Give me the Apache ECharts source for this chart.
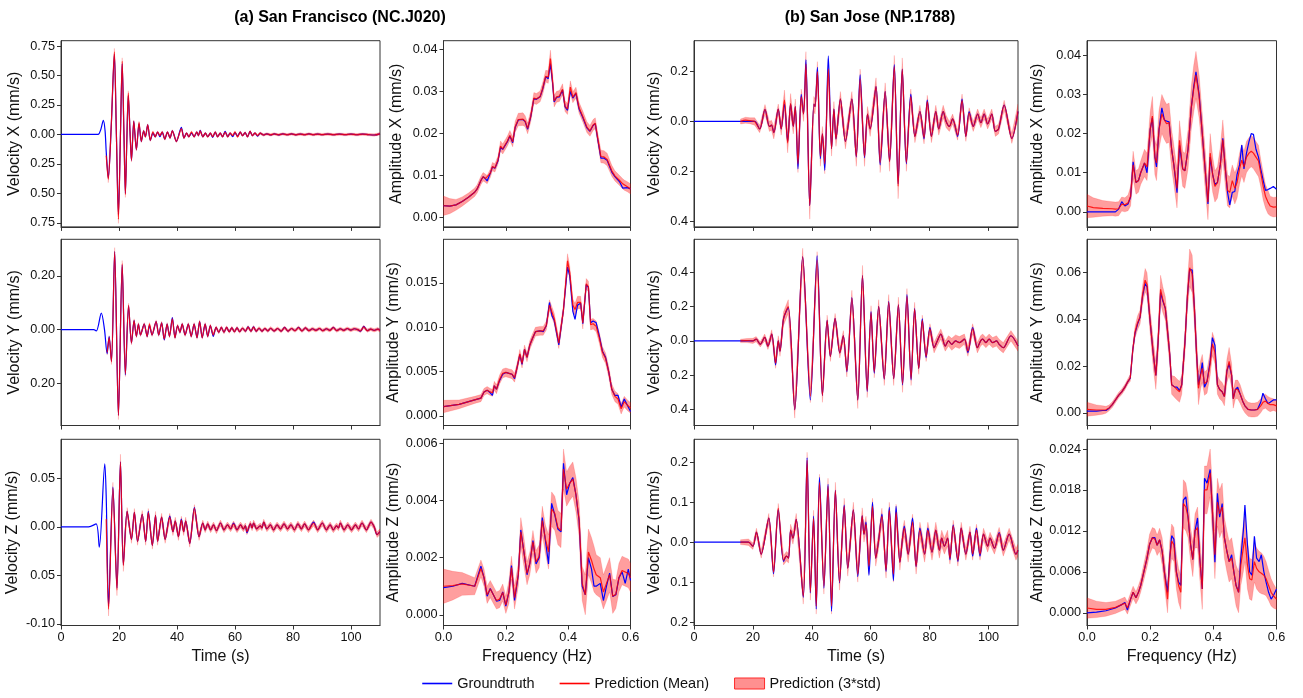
<!DOCTYPE html>
<html><head><meta charset="utf-8">
<script src="https://cdn.jsdelivr.net/npm/echarts@6/dist/echarts.min.js"></script>
<style>html,body{margin:0;padding:0;background:#fff}#c{width:1303px;height:698px}</style>
</head><body><div id="c"></div>
<script>
// ---------- tick labels ----------
const timeTicks = [0,20,40,60,80,100];
const timeTickLabels = ['0','20','40','60','80','100'];
const freqTicks = [0,0.2,0.4,0.6];
const freqTickLabels = ['0.0','0.2','0.4','0.6'];

const ySFVX = [-0.75,-0.5,-0.25,0,0.25,0.5,0.75], ySFVXL = ['0.75','0.50','0.25','0.00','0.25','0.50','0.75'];
const ySFVY = [-0.2,0,0.2], ySFVYL = ['0.20','0.00','0.20'];
const ySFVZ = [-0.1,-0.05,0,0.05], ySFVZL = ['-0.10','0.05','0.00','0.05'];
const ySFAX = [0,0.01,0.02,0.03,0.04], ySFAXL = ['0.00','0.01','0.02','0.03','0.04'];
const ySFAY = [0,0.005,0.01,0.015], ySFAYL = ['0.000','0.005','0.010','0.015'];
const ySFAZ = [0,0.002,0.004,0.006], ySFAZL = ['0.000','0.002','0.004','0.006'];
const ySJVX = [-0.4,-0.2,0,0.2], ySJVXL = ['0.4','0.2','0.0','0.2'];
const ySJVY = [-0.4,-0.2,0,0.2,0.4], ySJVYL = ['0.4','0.2','0.0','0.2','0.4'];
const ySJVZ = [-0.2,-0.1,0,0.1,0.2], ySJVZL = ['0.2','0.1','0.0','0.1','0.2'];
const ySJAX = [0,0.01,0.02,0.03,0.04], ySJAXL = ['0.00','0.01','0.02','0.03','0.04'];
const ySJAY = [0,0.02,0.04,0.06], ySJAYL = ['0.00','0.02','0.04','0.06'];
const ySJAZ = [0,0.006,0.012,0.018,0.024], ySJAZL = ['0.000','0.006','0.012','0.018','0.024'];

// ---------- (a) San Francisco, velocity X ----------
const tSFX = [0,5,10,12.8,13.7,14.6,15.2,
 15.6,16.3,17.3,18.4,19.1,19.8,20.5,21.1,21.7,22.2,
 22.7,23.2,23.8,24.3,25.1,26.0,26.9,27.7,28.5,29.1,
 29.9,30.8,31.7,32.5,33.3,34.1,34.9,35.8,36.7,37.6,
 38.4,39.8,41.5,42.4,43.3,44.1,45.0,45.9,46.8,47.4,48.0,
 48.9,49.8,50.6,51.5,52.3,53.2,54.0,54.9,55.7,56.6,
 57.5,58.3,59.2,60.0,60.9,61.8,62.6,63.5,64.3,65.2,
 66.0,66.9,67.8,68.7,69.8,71.0,72.3,73.5,75.0,76.5,
 78.0,79.5,81.0,82.5,84.0,85.5,87.0,88.5,90.0,92.0,
 94,96,98,100,102,104,106,108,110];
const gtSFX = [0,0,0,0,0.04,0.12,0.03,
 -0.15,-0.37,0.05,0.68,0.0,-0.68,0.0,0.60,0.0,-0.50,
 -0.05,0.33,0.02,-0.22,0.11,-0.13,0.09,-0.06,0.03,-0.02,
 0.08,-0.05,0.01,-0.02,0.02,-0.02,0.02,-0.04,0.02,-0.03,
 0.03,-0.06,0.06,-0.03,0.01,-0.02,0.01,-0.02,0.02,-0.01,0.035,
 -0.02,0.01,-0.02,0.01,-0.025,0.02,-0.02,0.01,-0.02,0.025,
 -0.02,0.01,-0.02,0.015,-0.015,0.02,-0.01,0.015,-0.02,0.025,
 -0.01,0.01,-0.015,0.01,-0.005,0.005,-0.005,0.004,-0.004,0.005,
 -0.003,0.004,-0.004,0.003,-0.003,0.005,-0.003,0.003,-0.002,0.003,
 -0.003,0.002,-0.002,0.002,-0.003,0.002,-0.002,-0.005,0.005];
const prSFX = [null,null,null,null,null,null,null,
 -0.18,-0.38,0.06,0.70,0.0,-0.72,0.0,0.62,0.02,-0.51,
 -0.05,0.35,0.02,-0.22,0.11,-0.13,0.10,-0.06,0.03,-0.02,
 0.08,-0.05,0.02,-0.02,0.02,-0.01,0.02,-0.04,0.02,-0.03,
 0.03,-0.06,0.05,-0.03,0.01,-0.02,0.02,-0.02,0.02,-0.01,0.03,
 -0.02,0.01,-0.02,0.01,-0.02,0.02,-0.02,0.01,-0.02,0.02,
 -0.02,0.01,-0.01,0.02,-0.02,0.02,-0.01,0.015,-0.02,0.025,
 -0.01,0.01,-0.01,0.01,-0.005,0.004,-0.004,0.004,-0.004,0.004,
 -0.003,0.004,-0.004,0.003,-0.003,0.004,-0.003,0.003,-0.002,0.003,
 -0.003,0.002,-0.002,0.002,-0.003,0.002,-0.002,-0.005,0.005];
const sdSFX = [null,null,null,null,null,null,null,
 0.02,0.03,0.015,0.03,0.015,0.035,0.015,0.03,0.015,0.025,
 0.015,0.02,0.012,0.015,0.012,0.012,0.012,0.01,0.01,0.01,
 0.01,0.01,0.01,0.01,0.01,0.01,0.01,0.01,0.01,0.01,
 0.01,0.01,0.01,0.01,0.01,0.01,0.01,0.01,0.01,0.01,0.01,
 0.01,0.01,0.01,0.01,0.01,0.01,0.01,0.01,0.01,0.01,
 0.01,0.01,0.01,0.01,0.01,0.01,0.01,0.01,0.01,0.01,
 0.01,0.01,0.01,0.01,0.01,0.01,0.01,0.01,0.01,0.01,
 0.01,0.01,0.01,0.01,0.01,0.01,0.01,0.01,0.01,0.01,
 0.01,0.01,0.01,0.01,0.01,0.01,0.01,0.01,0.01];

// ---------- (a) San Francisco, velocity Y ----------
const tSFY = [0,5,10,11.3,12.2,13.9,15.0,
 15.9,16.6,17.4,18.5,19.8,21.1,22.2,23.3,24.3,25.2,
 26.0,26.7,27.4,28.7,29.7,30.5,31.4,32.8,33.7,34.7,
 35.6,36.6,37.4,38.4,39.3,40.2,41.0,41.8,42.8,43.9,
 44.9,45.9,46.9,47.8,48.7,49.7,50.6,51.5,52.5,53.5,
 54.4,55.3,56.2,57.1,58.0,58.9,59.8,60.7,61.6,62.6,
 63.6,64.5,65.5,66.4,67.3,68.3,69.3,70.3,71.3,72.3,
 73.5,74.7,75.9,77.1,78.3,79.5,80.7,81.9,83.1,84.3,
 85.5,86.7,87.9,89.1,90.3,91.5,92.7,93.9,95.1,96.3,
 97.5,98.7,99.9,101.1,102.3,103.3,104.4,105.6,106.8,108.0,109.2,110];
const gtSFY = [0,0,0,0,-0.005,0.061,0.0,
 -0.09,-0.026,-0.117,0.29,-0.318,0.24,-0.169,0.088,-0.05,0.033,
 -0.025,0.02,-0.02,0.02,-0.025,0.015,-0.02,0.03,-0.02,0.025,
 -0.038,0.02,-0.025,0.045,-0.03,0.015,-0.01,0.02,-0.02,0.02,
 -0.025,0.02,-0.03,0.03,-0.03,0.02,-0.025,0.015,-0.025,0.008,
 -0.01,0.008,-0.01,0.008,-0.008,0.006,-0.008,0.006,-0.008,0.005,
 -0.006,0.01,-0.006,0.01,-0.006,0.005,-0.006,0.004,-0.005,0.005,
 -0.005,0.004,-0.006,0.008,-0.006,0.004,-0.004,0.008,-0.005,0.006,
 -0.004,0.003,-0.003,0.004,-0.004,0.003,-0.003,0.008,-0.004,0.003,
 -0.003,0.004,-0.002,0.003,0.0,-0.006,0.012,-0.004,0.002,-0.003,0.002,-0.003];
const prSFY = [null,null,null,null,null,null,null,
 -0.085,-0.03,-0.12,0.29,-0.32,0.245,-0.165,0.09,-0.05,0.033,
 -0.025,0.02,-0.02,0.02,-0.025,0.02,-0.02,0.03,-0.02,0.025,
 -0.035,0.02,-0.025,0.04,-0.03,0.015,-0.01,0.02,-0.02,0.02,
 -0.025,0.02,-0.03,0.03,-0.03,0.02,-0.025,0.015,-0.02,0.008,
 -0.01,0.008,-0.01,0.008,-0.008,0.006,-0.008,0.006,-0.008,0.005,
 -0.006,0.009,-0.006,0.009,-0.006,0.005,-0.006,0.004,-0.005,0.005,
 -0.005,0.004,-0.006,0.007,-0.006,0.004,-0.004,0.007,-0.005,0.006,
 -0.004,0.003,-0.003,0.004,-0.004,0.003,-0.003,0.007,-0.004,0.003,
 -0.003,0.004,-0.002,0.003,0.0,-0.005,0.01,-0.004,0.002,-0.003,0.002,-0.003];
const sdSFY = [null,null,null,null,null,null,null,
 0.01,0.008,0.01,0.015,0.015,0.012,0.01,0.008,0.007,0.007,
 0.006,0.006,0.006,0.006,0.006,0.006,0.006,0.006,0.006,0.006,
 0.006,0.006,0.006,0.006,0.006,0.006,0.006,0.006,0.006,0.006,
 0.006,0.006,0.006,0.006,0.006,0.006,0.006,0.006,0.006,0.006,
 0.006,0.006,0.006,0.006,0.006,0.006,0.006,0.006,0.006,0.006,
 0.006,0.006,0.006,0.006,0.006,0.006,0.006,0.006,0.006,0.006,
 0.006,0.006,0.006,0.006,0.006,0.006,0.006,0.006,0.006,0.006,
 0.006,0.006,0.006,0.006,0.006,0.006,0.006,0.006,0.006,0.006,
 0.006,0.006,0.006,0.006,0.006,0.006,0.006,0.006,0.006,0.006,0.006,0.006];

// ---------- (a) San Francisco, velocity Z ----------
const tSFZ = [0,5,9.5,12.1,13.2,15.1,
 15.6,16.4,17.9,19.3,20.5,21.5,22.8,24.3,25.3,26.4,
 28.0,29.2,30.1,31.5,32.6,33.3,34.7,35.9,37.5,38.6,
 39.4,40.5,41.5,42.3,43.0,44.4,46.0,47.6,48.9,49.7,
 50.6,51.6,52.6,53.6,55.0,56.2,57.4,58.5,59.5,60.7,
 61.9,62.9,63.6,64.1,65.3,65.9,66.4,67.5,68.7,69.3,
 69.9,71.0,72.2,73.3,74.5,75.7,76.9,78.1,79.3,80.5,
 81.7,82.9,84.0,85.3,87.1,88.5,90.1,91.5,92.8,93.9,
 95.0,95.7,96.3,97.6,98.9,100.2,101.5,102.6,103.8,105.3,
 106.9,108.0,109.0,110];
const gtSFZ = [0,0,0,0.003,-0.021,0.065,
 0.03,-0.082,0.041,-0.063,0.067,-0.039,0.016,-0.013,0.015,-0.015,
 0.013,-0.015,0.016,-0.019,0.012,-0.015,0.010,-0.013,0.011,-0.005,
 0.006,-0.010,0.008,-0.005,0.006,-0.017,0.020,-0.010,0.004,-0.003,
 0.003,-0.003,0.002,-0.004,0.004,-0.003,0.002,-0.002,0.004,-0.003,
 0.002,-0.002,0.001,-0.006,0.003,-0.001,0.004,-0.002,0.001,-0.001,
 0.005,-0.002,0.002,-0.003,0.002,-0.002,0.003,-0.002,0.002,-0.003,
 0.003,-0.002,0.003,-0.003,0.005,-0.003,0.004,-0.003,0.002,-0.003,
 0.001,-0.001,0.004,-0.003,0.002,-0.003,0.002,-0.002,0.004,-0.003,
 0.005,0.0,-0.008,-0.005];
const prSFZ = [null,null,null,null,null,null,
 0.008,-0.085,0.04,-0.065,0.067,-0.04,0.016,-0.013,0.015,-0.015,
 0.013,-0.015,0.015,-0.019,0.012,-0.015,0.010,-0.013,0.010,-0.005,
 0.006,-0.010,0.007,-0.005,0.006,-0.017,0.019,-0.010,0.004,-0.003,
 0.003,-0.003,0.002,-0.004,0.004,-0.003,0.002,-0.002,0.003,-0.003,
 0.002,-0.002,0.001,-0.005,0.003,-0.001,0.004,-0.002,0.001,-0.001,
 0.005,-0.002,0.002,-0.003,0.002,-0.002,0.003,-0.002,0.002,-0.003,
 0.003,-0.002,0.003,-0.003,0.004,-0.003,0.004,-0.003,0.002,-0.003,
 0.001,-0.001,0.004,-0.003,0.002,-0.003,0.002,-0.002,0.004,-0.003,
 0.005,0.0,-0.008,-0.005];
const sdSFZ = [null,null,null,null,null,null,
 0.004,0.007,0.006,0.006,0.008,0.006,0.004,0.004,0.004,0.004,
 0.004,0.004,0.004,0.004,0.004,0.004,0.004,0.004,0.004,0.004,
 0.004,0.004,0.004,0.004,0.004,0.004,0.004,0.004,0.003,0.003,
 0.003,0.003,0.003,0.003,0.003,0.003,0.003,0.003,0.003,0.003,
 0.003,0.003,0.003,0.003,0.003,0.003,0.003,0.003,0.003,0.003,
 0.003,0.003,0.003,0.003,0.003,0.003,0.003,0.003,0.003,0.003,
 0.003,0.003,0.003,0.003,0.003,0.003,0.003,0.003,0.003,0.003,
 0.003,0.003,0.003,0.003,0.003,0.003,0.003,0.003,0.003,0.003,
 0.003,0.003,0.003,0.003];

// ---------- (b) San Jose, velocity X ----------
const tSJX = [0,5,10,
 15.8,17.5,19.0,20.6,22.3,24.1,25.6,26.3,27.1,28.6,
 29.6,30.7,31.8,32.8,33.7,34.4,35.3,36.4,37.2,38.0,
 39.3,40.7,41.1,41.9,42.9,43.6,44.4,45.6,46.7,47.5,
 48.2,49.7,51.4,53.6,55.1,56.4,57.9,58.9,59.8,61.8,
 63.2,64.9,66.4,68.0,69.3,70.7,72.1,73.6,75.0,76.7,
 78.1,79.2,80.6,82.1,83.1,84.6,85.6,86.7,87.8,89.5,
 91.0,92.3,93.4,94.8,96.3,97.4,98.5,99.7,101.1,102.3,
 103.4,105.3,107.9,110];
const gtSJX = [0,0,0,
 0,0,0,0,-0.03,0.048,-0.02,-0.015,-0.045,0.05,
 -0.03,0.07,-0.08,0.07,-0.02,0.06,-0.19,0.109,0.03,0.247,
 -0.337,0.07,0.06,0.217,-0.149,-0.05,-0.196,0.263,-0.109,0.05,
 -0.07,0.09,-0.08,0.09,-0.142,0.187,-0.145,0.03,-0.03,0.14,
 -0.174,0.12,-0.16,0.228,-0.25,0.21,-0.17,0.11,-0.06,0.04,
 -0.07,0.086,-0.06,0.04,-0.03,0.04,0,-0.02,0.01,-0.06,
 0.09,-0.06,0.04,-0.02,0.03,-0.005,0.03,-0.01,0.03,-0.04,
 -0.03,0.066,-0.068,0.04];
const prSJX = [null,null,null,
 0,0.005,0.003,0,-0.03,0.048,-0.02,-0.015,-0.045,0.05,
 -0.03,0.086,-0.086,0.072,-0.02,0.06,-0.17,0.10,0.03,0.23,
 -0.337,0.07,0.06,0.20,-0.14,-0.05,-0.17,0.21,-0.109,0.05,
 -0.07,0.09,-0.08,0.09,-0.14,0.17,-0.14,0.03,-0.03,0.14,
 -0.165,0.12,-0.16,0.22,-0.26,0.21,-0.165,0.10,-0.06,0.04,
 -0.065,0.08,-0.06,0.04,-0.03,0.04,0,-0.02,0.01,-0.055,
 0.085,-0.06,0.035,-0.02,0.03,-0.005,0.03,-0.01,0.03,-0.04,
 -0.03,0.065,-0.068,0.04];
const sdSJX = [null,null,null,
 0.01,0.012,0.012,0.015,0.015,0.02,0.02,0.02,0.025,0.02,
 0.025,0.04,0.04,0.04,0.03,0.03,0.035,0.03,0.03,0.05,
 0.055,0.03,0.03,0.04,0.04,0.03,0.04,0.04,0.03,0.03,
 0.03,0.03,0.03,0.03,0.04,0.04,0.04,0.03,0.03,0.035,
 0.04,0.035,0.04,0.045,0.05,0.045,0.035,0.03,0.025,0.025,
 0.025,0.025,0.025,0.025,0.025,0.025,0.025,0.02,0.02,0.02,
 0.025,0.02,0.02,0.02,0.02,0.02,0.02,0.02,0.02,0.02,
 0.02,0.02,0.02,0.03];

// ---------- (b) San Jose, velocity Y ----------
const tSJY = [0,5,10,
 15.8,18.0,20.0,21.1,22.5,24.0,25.1,26.4,27.7,28.6,
 29.2,30.4,32.0,34.2,36.9,39.5,41.8,43.6,45.2,46.3,
 47.9,49.5,50.7,51.9,53.6,55.6,57.2,58.8,60.1,61.2,
 62.7,64.6,66.1,67.8,69.4,70.8,72.3,73.7,74.9,76.3,
 77.5,78.8,80.1,81.5,82.6,83.8,85.3,86.4,87.5,88.8,
 90.1,91.8,93.0,94.6,96.2,97.3,98.0,99.1,100.2,101.4,
 102.7,103.6,105.0,107.6,110];
const gtSJY = [0,0,0,
 0,0,0,0.01,-0.02,0.02,-0.03,0.04,-0.14,0,
 -0.06,0.13,0.194,-0.40,0.49,-0.344,0.495,-0.318,0.12,-0.09,
 0.13,-0.07,0.03,-0.18,0.252,-0.344,0.38,-0.295,0.17,-0.188,
 0.2,-0.223,0.229,-0.22,0.21,-0.256,0.27,-0.227,0.188,-0.16,
 0.128,-0.097,0.078,-0.04,0,0.04,-0.03,0,-0.02,0,
 -0.01,0.01,-0.068,0.078,-0.04,0,0.01,-0.01,0.01,-0.01,
 0,-0.02,-0.04,0.03,-0.03];
const prSJY = [null,null,null,
 0,0.002,0,0.01,-0.02,0.02,-0.03,0.04,-0.13,0,
 -0.06,0.13,0.2,-0.40,0.49,-0.32,0.47,-0.318,0.12,-0.09,
 0.13,-0.07,0.03,-0.175,0.25,-0.344,0.38,-0.29,0.165,-0.18,
 0.2,-0.22,0.225,-0.22,0.21,-0.25,0.26,-0.22,0.185,-0.16,
 0.12,-0.09,0.07,-0.04,0,0.04,-0.03,0,-0.02,0,
 -0.01,0.01,-0.06,0.07,-0.04,0,0.01,-0.01,0.01,-0.01,
 0,-0.02,-0.04,0.03,-0.03];
const sdSJY = [null,null,null,
 0.01,0.012,0.015,0.015,0.015,0.02,0.02,0.025,0.03,0.03,
 0.03,0.04,0.04,0.05,0.05,0.04,0.05,0.04,0.03,0.03,
 0.03,0.03,0.03,0.035,0.045,0.05,0.06,0.04,0.04,0.035,
 0.04,0.04,0.045,0.04,0.045,0.05,0.045,0.04,0.04,0.035,
 0.03,0.03,0.03,0.03,0.03,0.03,0.03,0.03,0.035,0.035,
 0.035,0.03,0.03,0.03,0.03,0.03,0.03,0.03,0.03,0.03,
 0.03,0.03,0.03,0.03,0.03];

// ---------- (b) San Jose, velocity Z ----------
const tSJZ = [0,5,10,
 15.8,18.5,20.0,21.2,22.8,25.4,27.0,28.6,30.4,31.4,
 32.1,32.8,33.6,34.7,37.1,38.4,39.5,40.6,41.5,42.6,
 44.1,45.5,46.7,48.0,49.4,51.0,52.2,54.1,55.6,57.1,
 57.7,58.4,59.4,60.6,61.7,62.6,63.8,65.2,66.3,67.7,
 68.6,69.9,70.8,71.4,72.7,74.2,75.4,76.7,78.3,79.4,
 80.8,82.1,83.3,84.1,85.0,86.1,86.9,88.0,89.6,90.7,
 92.3,93.7,94.6,95.9,97.1,98.3,99.7,100.5,102.0,103.6,
 105.0,107.0,109.3,110];
const gtSJZ = [0,0,0,
 0,0,-0.01,0.025,-0.03,0.06,-0.079,0.081,-0.048,-0.035,
 -0.04,0.03,0.01,0.057,-0.138,0.211,-0.127,0.065,-0.167,0.162,
 -0.115,0.145,-0.173,0.13,-0.102,0.093,-0.065,0.081,-0.086,0.066,
 0.02,0.05,-0.083,0.1,-0.04,0,0.07,-0.073,0.087,-0.096,
 0.09,-0.05,0.01,0.04,-0.03,0.06,-0.061,0.035,-0.03,0.035,
 -0.025,0.03,-0.02,0.01,-0.01,0.01,-0.044,0.043,-0.048,0.035,
 -0.03,0.025,-0.035,0.035,-0.035,0.02,-0.01,0.01,-0.015,0.024,
 -0.02,0.02,-0.03,-0.02];
const prSJZ = [null,null,null,
 0,0,-0.01,0.025,-0.03,0.06,-0.075,0.085,-0.045,-0.035,
 -0.04,0.03,0.01,0.057,-0.135,0.205,-0.125,0.06,-0.16,0.15,
 -0.11,0.14,-0.16,0.13,-0.1,0.09,-0.065,0.08,-0.08,0.066,
 0.02,0.045,-0.06,0.09,-0.04,0,0.065,-0.07,0.08,-0.08,
 0.075,-0.05,0.01,0.035,-0.03,0.05,-0.06,0.03,-0.03,0.03,
 -0.025,0.03,-0.02,0.01,-0.01,0.01,-0.04,0.04,-0.045,0.035,
 -0.03,0.025,-0.03,0.03,-0.03,0.02,-0.01,0.01,-0.015,0.022,
 -0.02,0.02,-0.03,-0.02];
const sdSJZ = [null,null,null,
 0.006,0.008,0.008,0.01,0.01,0.012,0.012,0.012,0.012,0.012,
 0.012,0.015,0.015,0.015,0.02,0.02,0.02,0.02,0.02,0.02,
 0.02,0.02,0.02,0.02,0.02,0.02,0.02,0.02,0.02,0.02,
 0.02,0.02,0.02,0.02,0.02,0.02,0.02,0.02,0.02,0.02,
 0.02,0.02,0.02,0.02,0.02,0.02,0.02,0.02,0.02,0.02,
 0.02,0.02,0.02,0.02,0.02,0.02,0.015,0.015,0.015,0.015,
 0.015,0.015,0.015,0.015,0.015,0.015,0.015,0.015,0.015,0.015,
 0.015,0.015,0.015,0.015];

// ---------- (a) San Francisco, amplitude X ----------
const fSFX = [0,0.02,0.04,0.06,0.08,0.10,0.108,0.12,0.127,0.135,
 0.14,0.15,0.157,0.165,0.175,0.183,0.19,0.205,0.213,0.222,
 0.23,0.24,0.255,0.262,0.27,0.28,0.29,0.298,0.31,0.318,
 0.328,0.336,0.343,0.35,0.355,0.363,0.372,0.382,0.39,0.398,
 0.407,0.415,0.425,0.435,0.447,0.46,0.47,0.48,0.487,0.495,
 0.505,0.515,0.525,0.54,0.55,0.565,0.575,0.58,0.59,0.6];
const agSFX = [0.0028,0.0027,0.0030,0.0038,0.0048,0.0060,0.0068,0.0088,0.0097,0.0092,
 0.0087,0.0105,0.0120,0.0117,0.0135,0.0167,0.0162,0.0180,0.0194,0.0178,
 0.0214,0.0232,0.0233,0.0228,0.0210,0.0240,0.0283,0.0281,0.0287,0.0305,
 0.0335,0.0330,0.0366,0.0320,0.0275,0.0286,0.0287,0.0303,0.0263,0.0255,
 0.0300,0.0284,0.0295,0.0258,0.0238,0.0213,0.0205,0.0219,0.0223,0.0185,
 0.0141,0.0141,0.0136,0.0108,0.0097,0.0085,0.0070,0.0067,0.0071,0.0068];
const apSFX = [0.0028,0.0027,0.0030,0.0038,0.0048,0.0060,0.0068,0.0088,0.0097,0.0093,
 0.0090,0.0105,0.0121,0.0118,0.0137,0.0170,0.0163,0.0182,0.0195,0.0180,
 0.0216,0.0233,0.0234,0.0229,0.0212,0.0241,0.0284,0.0282,0.0288,0.0306,
 0.0336,0.0334,0.0378,0.0325,0.0277,0.0287,0.0289,0.0305,0.0265,0.0258,
 0.0310,0.0286,0.0297,0.0261,0.0240,0.0215,0.0206,0.0220,0.0224,0.0188,
 0.0145,0.0144,0.0138,0.0111,0.0099,0.0088,0.0080,0.0077,0.0073,0.0068];
const asSFX = [0.0023,0.0018,0.0013,0.0011,0.001,0.001,0.001,0.001,0.001,0.001,
 0.001,0.001,0.001,0.001,0.001,0.0012,0.0012,0.0012,0.0012,0.0012,
 0.0013,0.0015,0.0015,0.0013,0.0013,0.0013,0.0013,0.0013,0.0013,0.0014,
 0.0014,0.0015,0.0020,0.0018,0.0014,0.0013,0.0013,0.0013,0.0013,0.0013,
 0.0015,0.0013,0.0013,0.0013,0.0013,0.0013,0.0013,0.0013,0.0013,0.0013,
 0.0015,0.0015,0.0015,0.0013,0.0012,0.0012,0.0012,0.0012,0.0012,0.0012];

// ---------- (a) San Francisco, amplitude Y ----------
const fSFY = [0,0.05,0.10,0.12,0.13,0.14,0.15,0.157,0.163,0.17,
 0.18,0.19,0.20,0.21,0.22,0.228,0.237,0.245,0.252,0.26,
 0.268,0.277,0.285,0.295,0.31,0.32,0.33,0.34,0.348,0.355,
 0.37,0.385,0.398,0.405,0.415,0.422,0.43,0.44,0.447,0.458,
 0.465,0.472,0.48,0.49,0.50,0.51,0.52,0.53,0.54,0.55,
 0.56,0.57,0.58,0.59,0.6];
const agSFY = [0.00105,0.0013,0.0018,0.0020,0.0027,0.0029,0.0026,0.0023,0.0034,0.0030,
 0.0040,0.0047,0.0049,0.0048,0.0047,0.0042,0.0056,0.0069,0.0058,0.0075,
 0.0066,0.0080,0.0087,0.0095,0.0096,0.0095,0.0102,0.0128,0.0113,0.0108,
 0.0080,0.0120,0.0168,0.0158,0.0118,0.0109,0.0125,0.0127,0.0104,0.0148,
 0.0145,0.0105,0.0107,0.0105,0.0090,0.0073,0.0066,0.0050,0.0030,0.0023,
 0.0023,0.0010,0.0019,0.0012,0.0005];
const apSFY = [0.00105,0.0013,0.0018,0.0020,0.0027,0.0029,0.0027,0.0026,0.0034,0.0030,
 0.0041,0.0048,0.0049,0.0048,0.0047,0.0043,0.0056,0.0070,0.0059,0.0075,
 0.0066,0.0080,0.0087,0.0095,0.0096,0.0096,0.0102,0.0125,0.0117,0.0110,
 0.0082,0.0120,0.0175,0.0162,0.0125,0.0120,0.0128,0.0128,0.0105,0.0149,
 0.0146,0.0103,0.0104,0.0101,0.0088,0.0072,0.0065,0.0050,0.0030,0.0022,
 0.0019,0.0008,0.0016,0.0012,0.0009];
const asSFY = [0.0007,0.0005,0.0004,0.0004,0.0004,0.0004,0.0004,0.0004,0.0005,0.0005,
 0.0005,0.0005,0.0005,0.0005,0.0005,0.0005,0.0005,0.0005,0.0005,0.0005,
 0.0005,0.0005,0.0005,0.0005,0.0005,0.0005,0.0005,0.0006,0.0006,0.0006,
 0.0006,0.0006,0.0008,0.0007,0.0007,0.0007,0.0007,0.0007,0.0007,0.0006,
 0.0006,0.0006,0.0006,0.0006,0.0006,0.0006,0.0006,0.0006,0.0006,0.0006,
 0.0006,0.0006,0.0006,0.0006,0.0006];

// ---------- (a) San Francisco, amplitude Z ----------
const fSFZ = [0,0.03,0.06,0.10,0.12,0.13,0.14,0.15,0.16,0.17,
 0.18,0.19,0.20,0.21,0.218,0.228,0.24,0.248,0.258,0.268,
 0.277,0.287,0.297,0.307,0.317,0.327,0.337,0.347,0.357,0.367,
 0.377,0.385,0.395,0.405,0.415,0.425,0.435,0.445,0.455,0.465,
 0.475,0.483,0.49,0.503,0.513,0.523,0.533,0.543,0.553,0.563,
 0.573,0.583,0.593,0.6];
const agSFZ = [0.00095,0.00100,0.00110,0.00100,0.00170,0.00130,0.00065,0.00092,0.00070,0.00048,
 0.00050,0.00080,0.00030,0.00080,0.00172,0.00050,0.00140,0.00297,0.00220,0.00140,
 0.00180,0.00260,0.00178,0.00200,0.00340,0.00260,0.00178,0.00390,0.00350,0.00300,
 0.00290,0.00530,0.00420,0.00460,0.00480,0.00420,0.00330,0.00100,0.00070,0.00200,
 0.00160,0.00100,0.00100,0.00110,0.00050,0.00100,0.00146,0.00064,0.00070,0.00130,
 0.00150,0.00110,0.00160,0.00120];
const apSFZ = [0.00100,0.00102,0.00108,0.00100,0.00162,0.00130,0.00070,0.00090,0.00070,0.00050,
 0.00055,0.00078,0.00035,0.00080,0.00165,0.00060,0.00140,0.00290,0.00220,0.00145,
 0.00180,0.00255,0.00185,0.00205,0.00330,0.00265,0.00220,0.00370,0.00355,0.00305,
 0.00295,0.00510,0.00440,0.00460,0.00475,0.00420,0.00335,0.00110,0.00070,0.00220,
 0.00190,0.00160,0.00140,0.00130,0.00080,0.00110,0.00140,0.00065,0.00072,0.00130,
 0.00155,0.00150,0.00145,0.00130];
const asSFZ = [0.0006,0.0005,0.0004,0.0003,0.0003,0.0003,0.0003,0.0003,0.0003,0.0003,
 0.0003,0.0003,0.0003,0.0004,0.0004,0.0004,0.0004,0.0005,0.0005,0.0004,
 0.0004,0.0004,0.0004,0.0004,0.0005,0.0005,0.0006,0.0006,0.0006,0.0006,
 0.0006,0.0007,0.0006,0.0006,0.0006,0.0006,0.0006,0.0006,0.0007,0.0008,
 0.0008,0.0008,0.0007,0.0007,0.0006,0.0006,0.0006,0.0006,0.0005,0.0005,
 0.0005,0.0005,0.0005,0.0005];

// ---------- (b) San Jose, amplitude X ----------
const fSJX = [0,0.02,0.05,0.08,0.09,0.10,0.11,0.12,0.13,0.138,
 0.146,0.155,0.163,0.17,0.182,0.19,0.2,0.207,0.215,0.22,
 0.228,0.237,0.245,0.252,0.26,0.268,0.275,0.285,0.293,0.303,
 0.31,0.32,0.33,0.338,0.345,0.355,0.365,0.375,0.383,0.39,
 0.398,0.405,0.413,0.422,0.43,0.438,0.445,0.452,0.46,0.468,
 0.475,0.483,0.49,0.497,0.505,0.513,0.52,0.527,0.535,0.543,
 0.55,0.558,0.565,0.573,0.58,0.59,0.6];
const agSJX = [0,0,0,0,0,0.0007,0.0026,0.0015,0.0020,0.0038,
 0.0128,0.0075,0.0080,0.0100,0.0125,0.0100,0.0210,0.0240,0.0140,0.0115,
 0.0210,0.0266,0.0235,0.0232,0.0230,0.0160,0.0120,0.0049,0.0170,0.0110,
 0.0105,0.0160,0.0265,0.0320,0.0358,0.0300,0.0200,0.0100,0.0020,0.0140,
 0.0095,0.0070,0.0075,0.0120,0.0188,0.0110,0.0050,0.0018,0.0050,0.0052,
 0.0095,0.0120,0.0171,0.0110,0.0150,0.0180,0.0200,0.0198,0.0160,0.0140,
 0.0110,0.0080,0.0055,0.0057,0.0060,0.0065,0.0058];
const apSJX = [0.0015,0.0011,0.0009,0.0008,0.0007,0.0008,0.0020,0.0018,0.0023,0.0040,
 0.0120,0.0075,0.0080,0.0100,0.0125,0.0115,0.0210,0.0245,0.0140,0.0125,
 0.0210,0.0250,0.0235,0.0225,0.0228,0.0160,0.0120,0.0060,0.0183,0.0110,
 0.0105,0.0160,0.0265,0.0315,0.0350,0.0295,0.0200,0.0100,0.0025,0.0150,
 0.0095,0.0065,0.0075,0.0120,0.0185,0.0110,0.0055,0.0050,0.0080,0.0060,
 0.0075,0.0110,0.0132,0.0115,0.0140,0.0150,0.0155,0.0150,0.0140,0.0130,
 0.0100,0.0065,0.0040,0.0025,0.0015,0.0012,0.0013];
const asSJX = [0.0030,0.0025,0.0020,0.0018,0.0018,0.0018,0.0018,0.0018,0.0020,0.0025,
 0.0035,0.0030,0.0030,0.0030,0.0035,0.0035,0.0045,0.0050,0.0045,0.0045,
 0.0050,0.0050,0.0050,0.0050,0.0050,0.0050,0.0050,0.0050,0.0050,0.0045,
 0.0045,0.0050,0.0055,0.0060,0.0060,0.0055,0.0050,0.0050,0.0045,0.0050,
 0.0045,0.0040,0.0040,0.0045,0.0050,0.0045,0.0040,0.0040,0.0040,0.0040,
 0.0040,0.0040,0.0040,0.0040,0.0040,0.0040,0.0040,0.0040,0.0040,0.0040,
 0.0035,0.0035,0.0030,0.0030,0.0025,0.0025,0.0025];

// ---------- (b) San Jose, amplitude Y ----------
const fSJY = [0,0.03,0.05,0.06,0.07,0.08,0.09,0.10,0.11,0.12,
 0.13,0.137,0.145,0.152,0.16,0.168,0.176,0.184,0.19,0.2,
 0.21,0.218,0.225,0.233,0.24,0.248,0.255,0.262,0.268,0.278,
 0.285,0.293,0.3,0.31,0.318,0.325,0.333,0.34,0.347,0.353,
 0.36,0.365,0.372,0.38,0.39,0.397,0.405,0.413,0.42,0.428,
 0.435,0.443,0.45,0.458,0.463,0.47,0.477,0.485,0.493,0.5,
 0.51,0.52,0.53,0.54,0.55,0.557,0.565,0.573,0.58,0.59,
 0.6];
const agSJY = [0.0007,0.0007,0.0010,0.0010,0.0020,0.0035,0.0055,0.0075,0.0090,0.0110,
 0.0135,0.0148,0.0270,0.0340,0.0380,0.0409,0.0500,0.0553,0.0540,0.0390,
 0.0250,0.0160,0.0300,0.0515,0.0480,0.0447,0.0350,0.0250,0.0120,0.0110,
 0.0110,0.0095,0.0120,0.0300,0.0500,0.0615,0.0611,0.0450,0.0250,0.0120,
 0.0170,0.0215,0.0110,0.0134,0.0220,0.0322,0.0290,0.0120,0.0100,0.0090,
 0.0070,0.0180,0.0210,0.0160,0.0060,0.0100,0.0110,0.0080,0.0050,0.0030,
 0.0015,0.0012,0.0012,0.0015,0.0045,0.0084,0.0060,0.0040,0.0045,0.0055,
 0.0055];
const apSJY = [0.0015,0.0012,0.0012,0.0013,0.0021,0.0035,0.0055,0.0075,0.0090,0.0110,
 0.0135,0.0150,0.0270,0.0345,0.0385,0.0410,0.0505,0.0568,0.0550,0.0390,
 0.0250,0.0160,0.0300,0.0529,0.0485,0.0447,0.0350,0.0250,0.0120,0.0110,
 0.0100,0.0090,0.0120,0.0300,0.0500,0.0621,0.0595,0.0450,0.0250,0.0105,
 0.0165,0.0190,0.0125,0.0134,0.0210,0.0295,0.0260,0.0120,0.0100,0.0090,
 0.0070,0.0180,0.0220,0.0160,0.0060,0.0100,0.0100,0.0080,0.0050,0.0030,
 0.0015,0.0012,0.0012,0.0015,0.0030,0.0045,0.0050,0.0040,0.0035,0.0035,
 0.0030];
const asSJY = [0.0030,0.0022,0.0018,0.0015,0.0012,0.0012,0.0012,0.0012,0.0012,0.0012,
 0.0012,0.0015,0.0020,0.0025,0.0030,0.0030,0.0040,0.0050,0.0050,0.0050,
 0.0060,0.0060,0.0060,0.0060,0.0055,0.0050,0.0050,0.0045,0.0040,0.0045,
 0.0045,0.0045,0.0040,0.0050,0.0060,0.0080,0.0080,0.0070,0.0070,0.0070,
 0.0060,0.0060,0.0050,0.0050,0.0050,0.0050,0.0050,0.0040,0.0040,0.0040,
 0.0040,0.0050,0.0060,0.0050,0.0040,0.0040,0.0040,0.0040,0.0035,0.0030,
 0.0030,0.0030,0.0030,0.0030,0.0030,0.0030,0.0030,0.0030,0.0030,0.0025,
 0.0025];

// ---------- (b) San Jose, amplitude Z ----------
const fSJZ = [0,0.03,0.06,0.09,0.11,0.12,0.128,0.138,0.146,0.155,
 0.163,0.17,0.18,0.19,0.198,0.207,0.215,0.222,0.23,0.238,
 0.245,0.255,0.262,0.268,0.275,0.283,0.29,0.297,0.305,0.313,
 0.32,0.328,0.335,0.342,0.35,0.357,0.365,0.372,0.38,0.39,
 0.397,0.405,0.413,0.42,0.428,0.435,0.443,0.45,0.458,0.465,
 0.472,0.48,0.487,0.495,0.5,0.508,0.515,0.522,0.53,0.537,
 0.545,0.552,0.56,0.567,0.575,0.583,0.59,0.6];
const agSJZ = [0.0000,0.0001,0.0003,0.0007,0.0012,0.0015,0.0004,0.0020,0.0030,0.0022,
 0.0030,0.0040,0.0060,0.0080,0.0100,0.0110,0.0110,0.0099,0.0107,0.0090,
 0.0060,0.0030,0.0080,0.0113,0.0108,0.0060,0.0045,0.0040,0.0165,0.0170,
 0.0140,0.0100,0.0078,0.0120,0.0139,0.0080,0.0035,0.0197,0.0190,0.0210,
 0.0150,0.0074,0.0175,0.0140,0.0160,0.0110,0.0090,0.0075,0.0085,0.0060,
 0.0040,0.0030,0.0080,0.0120,0.0158,0.0100,0.0060,0.0055,0.0112,0.0080,
 0.0075,0.0085,0.0060,0.0045,0.0030,0.0020,0.0025,0.0035];
const apSJZ = [0.0007,0.0005,0.0005,0.0008,0.0012,0.0014,0.0007,0.0020,0.0030,0.0022,
 0.0030,0.0040,0.0060,0.0080,0.0100,0.0110,0.0108,0.0099,0.0107,0.0090,
 0.0060,0.0020,0.0080,0.0105,0.0100,0.0060,0.0040,0.0030,0.0160,0.0155,
 0.0140,0.0100,0.0078,0.0120,0.0125,0.0080,0.0035,0.0180,0.0180,0.0205,
 0.0150,0.0085,0.0162,0.0145,0.0155,0.0110,0.0090,0.0075,0.0080,0.0060,
 0.0040,0.0030,0.0070,0.0095,0.0110,0.0070,0.0050,0.0048,0.0075,0.0065,
 0.0060,0.0058,0.0055,0.0050,0.0040,0.0030,0.0025,0.0020];
const asSJZ = [0.0015,0.0012,0.0010,0.0009,0.0009,0.0009,0.0009,0.0009,0.0009,0.0009,
 0.0010,0.0010,0.0012,0.0013,0.0015,0.0015,0.0015,0.0015,0.0017,0.0020,
 0.0020,0.0020,0.0025,0.0025,0.0025,0.0025,0.0025,0.0025,0.0035,0.0035,
 0.0030,0.0025,0.0025,0.0025,0.0030,0.0030,0.0030,0.0035,0.0035,0.0035,
 0.0035,0.0035,0.0035,0.0035,0.0035,0.0030,0.0030,0.0030,0.0030,0.0030,
 0.0030,0.0030,0.0030,0.0035,0.0035,0.0035,0.0030,0.0030,0.0030,0.0030,
 0.0030,0.0030,0.0028,0.0025,0.0022,0.0020,0.0018,0.0015];

// ---------- layout ----------
const FONT = "'Liberation Sans', Arial, Helvetica, sans-serif";
const colLeft = [61, 443.5, 694, 1087];
const colWidth = [319, 187, 324, 189.5];
const rowTop = [40.7, 239.3, 439.3];
const rowH = 186.2;
const nameGaps = [[38,38,40],[39,38,40],[31,31,31],[41,41,41]];

const panels = [
 {r:0,c:0,time:true,x:tSFX,gt:gtSFX,pr:prSFX,sd:sdSFX,yMin:-0.785,yMax:0.795,yt:ySFVX,yl:ySFVXL,name:'Velocity X (mm/s)'},
 {r:1,c:0,time:true,x:tSFY,gt:gtSFY,pr:prSFY,sd:sdSFY,yMin:-0.357,yMax:0.336,yt:ySFVY,yl:ySFVYL,name:'Velocity Y (mm/s)'},
 {r:2,c:0,time:true,x:tSFZ,gt:gtSFZ,pr:prSFZ,sd:sdSFZ,yMin:-0.1018,yMax:0.0904,yt:ySFVZ,yl:ySFVZL,name:'Velocity Z (mm/s)'},
 {r:0,c:1,time:false,x:fSFX,gt:agSFX,pr:apSFX,sd:asSFX,yMin:-0.00224,yMax:0.04205,yt:ySFAX,yl:ySFAXL,name:'Amplitude X (mm/s)'},
 {r:1,c:1,time:false,x:fSFY,gt:agSFY,pr:apSFY,sd:asSFY,yMin:-0.00109,yMax:0.01993,yt:ySFAY,yl:ySFAYL,name:'Amplitude Y (mm/s)'},
 {r:2,c:1,time:false,x:fSFZ,gt:agSFZ,pr:apSFZ,sd:asSFZ,yMin:-0.000374,yMax:0.00614,yt:ySFAZ,yl:ySFAZL,name:'Amplitude Z (mm/s)'},
 {r:0,c:2,time:true,x:tSJX,gt:gtSJX,pr:prSJX,sd:sdSJX,yMin:-0.423,yMax:0.324,yt:ySJVX,yl:ySJVXL,name:'Velocity X (mm/s)'},
 {r:1,c:2,time:true,x:tSJY,gt:gtSJY,pr:prSJY,sd:sdSJY,yMin:-0.493,yMax:0.592,yt:ySJVY,yl:ySJVYL,name:'Velocity Y (mm/s)'},
 {r:2,c:2,time:true,x:tSJZ,gt:gtSJZ,pr:prSJZ,sd:sdSJZ,yMin:-0.2085,yMax:0.2575,yt:ySJVZ,yl:ySJVZL,name:'Velocity Z (mm/s)'},
 {r:0,c:3,time:false,x:fSJX,gt:agSJX,pr:apSJX,sd:asSJX,yMin:-0.00384,yMax:0.04374,yt:ySJAX,yl:ySJAXL,name:'Amplitude X (mm/s)'},
 {r:1,c:3,time:false,x:fSJY,gt:agSJY,pr:apSJY,sd:asSJY,yMin:-0.00543,yMax:0.0743,yt:ySJAY,yl:ySJAYL,name:'Amplitude Y (mm/s)'},
 {r:2,c:3,time:false,x:fSJZ,gt:agSJZ,pr:apSJZ,sd:asSJZ,yMin:-0.00186,yMax:0.02542,yt:ySJAZ,yl:ySJAZL,name:'Amplitude Z (mm/s)'}
];

function fmt(ticks, labels) {
  return function (v) {
    for (let i = 0; i < ticks.length; i++) if (Math.abs(ticks[i] - v) < 1e-9) return labels[i];
    return '';
  };
}

const grids = [], xAxes = [], yAxes = [], series = [];
panels.forEach((p, i) => {
  grids.push({left: colLeft[p.c], top: rowTop[p.r], width: colWidth[p.c], height: rowH,
    show: true, borderColor: '#333', borderWidth: 1, backgroundColor: 'rgba(0,0,0,0)'});
  const xt = p.time ? timeTicks : freqTicks, xl = p.time ? timeTickLabels : freqTickLabels;
  xAxes.push({type: 'value', gridIndex: i, min: 0, max: p.time ? 110 : 0.6,
    axisLine: {show: true, onZero: false, lineStyle: {color: '#333', width: 1}},
    axisTick: {show: true, length: 4, customValues: xt, lineStyle: {color: '#333'}},
    axisLabel: {show: p.r === 2, customValues: xt, formatter: fmt(xt, xl), fontSize: 12.7, color: '#111', fontFamily: FONT, margin: 5},
    splitLine: {show: false},
    name: p.r === 2 ? (p.time ? 'Time (s)' : 'Frequency (Hz)') : '',
    nameLocation: 'middle', nameGap: 23, nameTextStyle: {fontSize: 16, color: '#111', fontFamily: FONT}});
  yAxes.push({type: 'value', gridIndex: i, min: p.yMin, max: p.yMax,
    axisLine: {show: true, onZero: false, lineStyle: {color: '#333', width: 1}},
    axisTick: {show: true, length: 4, customValues: p.yt, lineStyle: {color: '#333'}},
    axisLabel: {customValues: p.yt, formatter: fmt(p.yt, p.yl), fontSize: 12.7, color: '#111', fontFamily: FONT, margin: 6},
    splitLine: {show: false},
    name: p.name, nameLocation: 'middle', nameGap: nameGaps[p.c][p.r],
    nameTextStyle: {fontSize: 16, color: '#111', fontFamily: FONT}});

  const idx = [];
  for (let j = 0; j < p.x.length; j++) if (p.pr[j] != null && p.sd[j] != null) idx.push(j);
  const sm = p.time ? 0.3 : false;
  series.push({type: 'custom', name: 'Prediction (3*std)', xAxisIndex: i, yAxisIndex: i, z: 1, clip: true, silent: true,
    animation: false, itemStyle: {color: 'rgba(255,60,60,0.5)'},
    data: idx.map(j => [p.x[j], p.pr[j]]),
    renderItem: function (params, api) {
      if (params.dataIndex !== 0) return null;
      const up = idx.map(j => api.coord([p.x[j], p.pr[j] + p.sd[j]]));
      const lo = idx.map(j => api.coord([p.x[j], p.pr[j] - p.sd[j]])).reverse();
      return {type: 'polygon', shape: {points: up.concat(lo)},
        style: {fill: 'rgba(255,0,0,0.38)', stroke: 'rgba(255,0,0,0.25)', lineWidth: 0.6}};
    }});
  series.push({type: 'line', name: 'Groundtruth', xAxisIndex: i, yAxisIndex: i, z: 3, silent: true, animation: false,
    symbol: 'none', smooth: sm, data: p.x.map((t, j) => [t, p.gt[j]]),
    lineStyle: {color: '#0000ff', width: 1.2}, itemStyle: {color: '#0000ff'}});
  series.push({type: 'line', name: 'Prediction (Mean)', xAxisIndex: i, yAxisIndex: i, z: 4, silent: true, animation: false,
    symbol: 'none', smooth: sm, data: idx.map(j => [p.x[j], p.pr[j]]),
    lineStyle: {color: '#ff0000', width: 1.2, opacity: 0.85}, itemStyle: {color: '#ff0000'}});
});

const lineIcon = 'path://M0,0L30,0L30,1.6L0,1.6Z';
const chart = echarts.init(document.getElementById('c'), null, {renderer: 'canvas'});
chart.setOption({
  animation: false,
  backgroundColor: '#ffffff',
  grid: grids, xAxis: xAxes, yAxis: yAxes, series: series,
  legend: {top: 671, left: 'center', itemWidth: 30, itemHeight: 11, itemGap: 25, selectedMode: false,
    textStyle: {fontSize: 14.5, color: '#111', fontFamily: FONT},
    data: [{name: 'Groundtruth', icon: lineIcon, itemStyle: {color: '#0000ff'}},
      {name: 'Prediction (Mean)', icon: lineIcon, itemStyle: {color: '#ff0000'}},
      {name: 'Prediction (3*std)', icon: 'rect', itemStyle: {color: 'rgba(255,70,70,0.6)', borderColor: '#ff2a2a', borderWidth: 1}}]},
  graphic: [
    {type: 'text', x: 340, y: 18, style: {text: '(a) San Francisco (NC.J020)', textAlign: 'center', textVerticalAlign: 'middle',
      font: "bold 16px 'Liberation Sans', Arial, sans-serif", fill: '#000'}},
    {type: 'text', x: 870, y: 18, style: {text: '(b) San Jose (NP.1788)', textAlign: 'center', textVerticalAlign: 'middle',
      font: "bold 16px 'Liberation Sans', Arial, sans-serif", fill: '#000'}}
  ]
});
</script></body></html>
